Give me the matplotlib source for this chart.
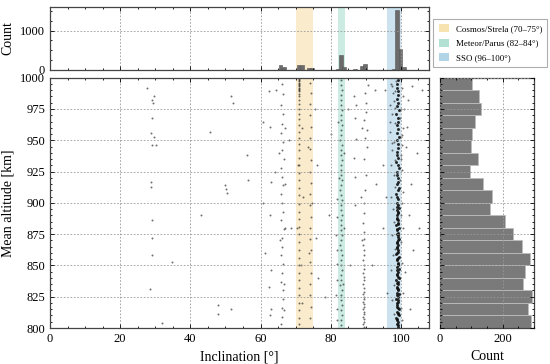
import numpy as np
import matplotlib as mpl
mpl.use('Agg')
import matplotlib.pyplot as plt
from matplotlib.patches import Patch
from matplotlib.ticker import MultipleLocator

# ---- scatter points (inclination deg, mean altitude km) ----
sso_core = [
    (99.1,801),(98.8,803),(99.3,805),(99.0,806),(98.7,808),(99.4,810),(99.2,811),(98.9,813),(99.5,815),(99.1,816),
    (98.8,818),(99.0,820),(99.3,821),(98.7,823),(99.2,825),(99.4,827),(98.9,828),(99.1,830),(99.0,832),(98.8,833),
    (99.3,835),(99.1,837),(98.7,838),(99.4,840),(99.0,842),(98.9,843),(99.2,845),(99.5,847),(98.8,849),(99.1,850),
    (99.3,852),(98.9,854),(99.0,855),(99.4,857),(98.7,859),(99.2,861),(99.1,862),(98.8,864),(99.3,866),(99.0,868),
    (98.9,869),(99.5,871),(99.1,873),(98.8,875),(99.2,876),(99.0,878),(99.4,880),(98.7,882),(99.1,884),(99.3,886),
    (98.9,888),(99.0,890),(99.2,892),(98.8,894),(99.4,896),(99.1,898),(98.9,900),(99.3,903),(99.0,905),(98.7,907),
    (99.2,910),(99.5,912),(98.9,915),(99.1,917),(99.3,920),(98.8,922),(99.0,925),(99.4,928),(99.1,930),(98.7,933),
    (99.2,936),(99.0,938),(98.9,941),(99.3,944),(99.1,947),(98.8,950),(99.5,953),(99.0,956),(99.2,959),(98.9,962),
    (99.3,965),(99.1,968),(98.7,971),(99.4,974),(99.0,977),(99.2,980),(98.8,983),(99.1,986),(99.3,989),(98.9,992),
    (99.0,995),(99.2,998),
    (99.2,802),(98.9,807),(99.3,812),(99.0,817),(99.1,822),(98.9,826),(99.3,831),(99.0,836),(99.2,841),(98.9,846),
    (99.1,851),(99.3,856),(99.0,860),(98.8,865),(99.2,870),(99.1,874),(98.9,879),(99.3,883),(99.0,887),(99.2,893),
    (98.9,897),
]
sso_wide = [
    (97.2,995),(100.2,992),(97.8,988),(100.5,985),(98.1,981),(96.9,978),(100.0,975),(97.5,971),(99.8,968),(98.3,964),
    (100.6,960),(97.0,957),(99.9,953),(98.0,949),(100.3,946),(97.6,942),(100.1,938),(98.2,934),(97.3,930),(100.4,926),
    (97.9,922),(99.7,918),(98.4,913),(100.7,909),(97.1,905),(100.2,900),(97.7,895),(99.9,890),(98.1,885),(100.5,880),
    (97.4,874),(100.0,869),(98.3,863),(97.8,858),(100.3,852),(97.2,846),(99.8,840),(98.0,834),(100.6,828),(97.5,822),
    (100.1,816),(97.9,811),(100.4,806),(98.2,989),(97.0,965),(99.9,935),(98.5,997),(100.0,999),(97.6,993),(98.4,976),
    (100.2,954),(97.4,948),
]
sso_out = [
    (95.5,990),(102.0,982),(103.2,993),(101.5,945),(95.0,930),(102.8,915),(101.8,961),(94.8,880),
    (103.5,862),(101.2,845),(96.0,828),(102.5,815),(101.0,975),(95.8,905),(102.2,890),
]
meteor = [
    (83.0,802),(82.8,806),(83.1,810),(82.9,814),(83.2,818),(82.8,822),(83.0,826),(83.1,830),(82.7,834),(83.0,838),
    (82.9,842),(83.2,846),(82.8,850),(83.0,854),(83.1,858),(82.9,862),(82.7,866),(83.0,870),(83.2,874),(82.8,878),
    (83.0,882),(82.9,886),(83.1,890),(82.8,894),(83.0,898),(83.2,902),(82.9,906),(82.7,910),(83.0,914),(83.1,918),
    (82.8,922),(83.0,926),(82.9,930),(83.2,934),(82.8,938),(83.0,942),(83.1,946),(82.7,950),(83.0,954),(82.9,958),
    (83.2,962),(82.8,966),(83.0,970),(83.1,974),(82.9,978),(82.8,982),(83.0,986),(83.2,990),(82.9,994),(83.0,998),
    (81.7,806),(81.8,815),(81.6,826),(81.9,838),(81.7,851),(81.8,862),(81.6,874),(81.8,889),(81.7,903),
    (83.7,940),(83.9,880),(83.6,835),(82.2,965),(82.3,920),
]
polar89 = [
    (89.4,801),(89.3,803),(89.5,805),(89.4,807),(89.3,809),(89.5,811),(89.4,813),(89.3,815),(89.4,817),(89.5,819),
    (89.3,821),(89.4,823),(89.5,825),(89.3,827),(89.4,829),(89.4,832),(89.3,835),(89.5,838),(89.4,841),(89.3,844),
    (89.4,847),(89.5,850),(89.3,854),(89.4,858),(89.4,862),(89.3,866),(89.5,871),(89.4,877),(89.3,884),(89.6,892),
    (89.4,900),(89.8,910),(90.1,922),(89.5,935),(90.3,945),(89.9,952),(90.4,958),(89.6,966),(90.0,973),(90.2,980),
    (89.7,988),(90.5,994),(88.8,960),(88.6,905),(89.0,870),
    (86.7,985),(86.9,968),(87.2,951),(86.5,936),(87.0,921),(86.8,898),(87.3,978),
]
cosmos = [
    (71.0,999),(71.1,998),(70.9,997),(71.0,996),(71.1,995),(70.9,994),(71.0,993),(71.1,992),(71.0,991),(70.9,990),
    (71.1,989),(71.0,987),(70.9,985),(71.0,982),(71.1,979),(71.0,975),(70.9,971),(71.0,967),(71.1,962),(70.9,957),
    (71.0,952),(71.1,947),(71.0,942),(70.9,936),(71.0,930),(71.1,924),(71.0,918),(70.9,912),(71.0,906),(71.1,899),
    (71.0,893),(70.9,887),(71.0,881),(71.1,875),(71.0,869),(70.9,862),(71.0,856),(71.1,850),(71.0,844),(70.9,838),
    (71.0,832),(71.1,826),(71.0,820),(70.9,814),(71.0,808),(71.1,803),(71.8,960),(72.0,905),(71.6,850),(70.6,930),
    (70.5,880),(71.9,820),
    (74.2,996),(74.3,988),(74.1,979),(74.2,970),(74.4,961),(74.2,952),(74.1,943),(74.3,934),(74.2,925),(74.4,916),
    (74.1,907),(74.2,898),(74.3,889),(74.2,880),(74.1,871),(74.3,862),(74.2,853),(74.4,844),(74.1,835),(74.2,826),
    (74.3,817),(74.2,808),(73.6,945),(74.8,900),(73.7,860),
]
incl66 = [
    (66.0,995),(66.3,987),(65.8,978),(66.5,971),(66.1,963),(65.7,956),(66.4,949),(66.0,942),(66.6,935),(65.9,928),
    (66.2,921),(66.5,914),(65.8,907),(66.1,900),(66.3,893),(65.9,886),(66.6,879),(66.0,872),(66.2,865),(65.7,858),
    (66.4,851),(66.1,844),(65.9,837),(66.3,830),(66.5,823),(66.0,816),(66.2,809),(65.8,803),(67.0,960),(66.9,915),
    (67.1,880),(65.4,940),(65.5,870),(66.8,835),
]
sparse = [
    (27.6,992),(29.6,985),(29.2,982),(29.4,980),(29.0,968),(28.8,956),(29.6,953),(29.0,946),(30.3,946),(28.9,917),
    (28.9,913),(29.1,886),(29.0,872),(29.1,858),(34.8,853),(28.4,831),(50.0,914),(50.2,911),(50.4,908),(51.6,985),
    (52.2,980),(48.0,818),(51.5,815),(45.7,957),(42.9,890),(32.0,804),(48.0,811),(62.6,810),(66.6,814),(62.5,989),
    (62.8,961),(63.0,917),(62.6,890),(63.1,846),(62.4,833),(62.9,815),(56.2,938),(56.4,918),(60.6,965),(60.8,900),
    (61.2,860),(75.6,975),(76.2,930),(75.9,872),(76.5,840),(80.0,955),(79.6,890),(78.5,825),(68.2,950),(68.8,880),
    (64.3,990),(64.0,925),(85.0,975),(85.5,850),(92.5,990),(93.0,915),(91.8,850),(104.5,940),(105.2,880),(106.0,990),
]

# ---- marginal histograms ----
incl_bin_centers = [62.7, 63.7, 65.7, 66.7, 70.8, 71.8, 73.8, 74.7, 81.9, 82.9, 83.8,
                    86.9, 88.9, 89.8, 97.9, 98.9, 99.9, 100.9, 101.9]
incl_counts = [8, 10, 130, 70, 120, 120, 45, 45, 25, 390, 70,
               25, 100, 155, 30, 1535, 543, 85, 12]
alt_bin_centers = [805, 815, 825, 835, 845, 855, 865, 875, 885, 895,
                   905, 915, 925, 935, 945, 955, 965, 975, 985, 995]
alt_counts = [289, 280, 293, 266, 271, 287, 261, 233, 206, 160,
              165, 138, 96, 121, 98, 102, 113, 130, 125, 102]

bands = [(70, 75, '#E69F00', 'Cosmos/Strela (70–75°)'),
         (82, 84, '#009E73', 'Meteor/Parus (82–84°)'),
         (96, 100, '#0072B2', 'SSO (96–100°)')]

plt.rcParams.update({
    'font.family': 'serif',
    'font.serif': ['Liberation Serif', 'DejaVu Serif'],
    'font.size': 9,
    'axes.labelsize': 10,
    'xtick.direction': 'in', 'ytick.direction': 'in',
    'xtick.top': True, 'ytick.right': True,
    'xtick.major.size': 3, 'ytick.major.size': 3,
    'xtick.minor.size': 1.5, 'ytick.minor.size': 1.5,
    'xtick.major.width': 0.6, 'ytick.major.width': 0.6,
    'axes.linewidth': 0.9,
    'axes.edgecolor': '#444444',
})

fig = plt.figure(figsize=(5.5, 3.64), dpi=100)
ax = fig.add_axes([0.0909, 0.0989, 0.689, 0.6876])
axt = fig.add_axes([0.0909, 0.8077, 0.689, 0.173], sharex=ax)
axr = fig.add_axes([0.8, 0.0989, 0.171, 0.6876], sharey=ax)

gridkw = dict(linestyle=(0, (2, 2)), color='#999999', linewidth=0.6)

for lo, hi, c, lab in bands:
    ax.axvspan(lo, hi, color=c, alpha=0.2, lw=0)
    axt.axvspan(lo, hi, color=c, alpha=0.2, lw=0)

for grp in [sparse, incl66, cosmos, meteor, polar89, sso_out, sso_wide]:
    pts = np.array(grp)
    ax.scatter(pts[:, 0], pts[:, 1], s=2.0, color='#222222', alpha=0.65, linewidths=0)
core = np.array(sso_core)
ax.scatter(core[:, 0], core[:, 1], s=4.5, color='#111111', alpha=0.9, linewidths=0)

ax.set_xlim(0, 108)
ax.set_ylim(800, 1000)
ax.xaxis.set_major_locator(MultipleLocator(20))
ax.xaxis.set_minor_locator(MultipleLocator(5))
ax.yaxis.set_major_locator(MultipleLocator(25))
ax.yaxis.set_minor_locator(MultipleLocator(5))
ax.grid(True, **gridkw)
ax.set_xlabel('Inclination [°]')
ax.set_ylabel('Mean altitude [km]')

# top histogram
axt.bar(incl_bin_centers, incl_counts, width=0.95, color='#6b6b6b',
        edgecolor='#555555', linewidth=0.4)
axt.set_ylim(0, 1600)
axt.yaxis.set_major_locator(MultipleLocator(1000))
axt.yaxis.set_minor_locator(MultipleLocator(250))
axt.grid(True, **gridkw)
axt.tick_params(labelbottom=False)
axt.set_ylabel('Count')

# right histogram
axr.barh(alt_bin_centers, alt_counts, height=10, color='#7a7a7a',
         edgecolor='#bdbdbd', linewidth=0.6)
axr.set_xlim(0, 300)
axr.xaxis.set_major_locator(MultipleLocator(200))
axr.xaxis.set_minor_locator(MultipleLocator(50))
axr.set_axisbelow(False)
axr.grid(True, **gridkw)
axr.tick_params(labelleft=False)
axr.set_xlabel('Count')

handles = [Patch(facecolor=c, alpha=0.3, edgecolor='none', label=lab) for lo, hi, c, lab in bands]
leg = fig.legend(handles=handles, loc='lower left', bbox_to_anchor=(0.783, 1 - 70 / 364),
                 fontsize=6.4, frameon=True, fancybox=False, edgecolor='#999999',
                 handlelength=1.2, handleheight=1.0, handletextpad=0.7,
                 borderpad=0.6, labelspacing=0.6, borderaxespad=0.3)
leg.get_frame().set_linewidth(0.8)

fig.savefig('out.png', dpi=100)
